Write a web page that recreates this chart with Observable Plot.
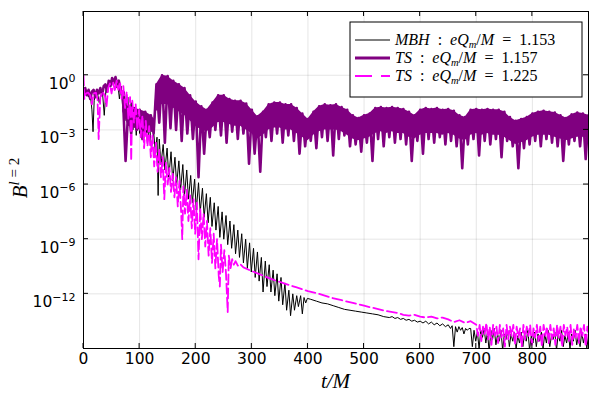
<!DOCTYPE html>
<html><head><meta charset="utf-8">
<script src="https://cdn.jsdelivr.net/npm/d3@7"></script>
<script src="https://cdn.jsdelivr.net/npm/@observablehq/plot@0.6"></script>
<style>body{margin:0;background:#fff} svg{display:block}</style>
</head><body><div id="chart"></div>
<script>
// ---- tick values ----
const xTicks = [0, 100, 200, 300, 400, 500, 600, 700, 800];
const yTicks = [0, -3, -6, -9, -12];   // log10 exponents

// ---- MBH : eQm/M = 1.153 (black), values are log10 B ----
const blackT = [0,3,6,9,12,15,17,19,22,25,28,31,34,37,40,43,46,49,52,55,58,61,64,67,70,73,76,79,82,85,88,91,94,97,100,104,107,111,114,118,121,125,128,131,133,135,
138,142,145,149,152,156,159,163,166,170,173,177,180,184,187,191,194,198,201,205,208,212,215,219,222,226,229,233,236,240,243,247,250,254,257,261,264,268,271,275,278,282,285,289,292,296,299,303,306,310,313,317,320,324,327,331,334,338,341,345,348,352,355,359,362,366,369,373,376,380,383,387,390,393,396,399,
405,415,425,435,445,455,465,475,485,495,505,515,525,535,545,550,555,560,565,570,575,580,585,590,595,600,605,610,615,620,625,630,635,640,645,650,654,657,660,663,666,669,672,675,678,681,684,687,
690,693,696,699,702,705,708,711,714,717,720,723,726,729,732,735,738,741,744,747,750,753,756,759,762,765,768,771,774,777,780,783,786,789,792,795,798,801,804,807,810,813,816,819,822,825,828,831,834,837,840,843,846,849,852,855,858,861,864,867,870,873,876,879,882,885,888,891,894,897,900];
const blackV = [-1.1,-0.9,-0.95,-1.2,-1.0,-1.9,-3.1,-1.4,-0.95,-1.0,-1.5,-1.1,-1.0,-2.2,-0.8,-0.5,-0.35,-0.3,-0.5,-0.3,-0.7,-0.4,-1.3,-0.6,-1.8,-0.9,-2.5,-1.2,-2.6,-1.5,-3.0,-1.8,-3.3,-2.0,-3.2,-2.3,-3.6,-2.6,-3.7,-2.8,-4.0,-3.1,-4.2,-3.4,-6.6,-3.5,
-4.9,-3.8,-5.2,-4.0,-5.6,-4.2,-5.8,-4.5,-6.0,-4.7,-6.3,-4.9,-6.6,-5.2,-6.8,-5.5,-7.0,-5.7,-7.4,-5.9,-7.5,-6.2,-7.8,-6.5,-8.1,-6.7,-8.3,-7.0,-8.5,-7.2,-8.9,-7.5,-9.0,-7.7,-9.3,-8.0,-9.5,-8.2,-9.8,-8.5,-10.0,-8.7,-10.3,-9.0,-10.6,-9.2,-10.8,-9.5,-11.1,-9.7,-11.3,-10.0,-11.9,-10.2,-11.6,-10.4,-11.9,-10.7,-12.1,-10.9,-12.4,-11.1,-12.6,-11.4,-12.9,-11.8,-13.2,-12.0,-12.9,-12.1,-12.7,-12.1,-13.1,-12.2,-12.5,-12.25,
-12.3,-12.4,-12.5,-12.55,-12.65,-12.75,-12.85,-12.9,-12.95,-13.0,-13.05,-13.1,-13.15,-13.25,-13.3,-13.25,-13.35,-13.3,-13.4,-13.35,-13.45,-13.4,-13.5,-13.45,-13.55,-13.5,-13.6,-13.5,-13.65,-13.55,-13.7,-13.6,-13.75,-13.65,-13.8,-13.7,-13.9,-13.75,-14.9,-13.8,-14.1,-13.8,-14.0,-13.85,-14.2,-13.9,-14.0,-13.9,
-13.9,-14.9,-14.0,-14.6,-14.1,-15.0,-14.0,-14.4,-13.9,-14.7,-14.1,-15.2,-14.0,-14.5,-13.9,-14.8,-14.2,-14.6,-14.0,-15.1,-14.2,-14.5,-14.0,-14.9,-14.2,-14.6,-14.1,-15.0,-14.3,-14.7,-14.1,-14.9,-14.2,-14.6,-14.0,-15.1,-14.3,-14.7,-14.1,-14.9,-14.2,-14.6,-14.1,-15.0,-14.2,-14.7,-14.0,-14.9,-14.3,-14.5,-14.1,-15.1,-14.2,-14.6,-14.0,-14.9,-14.3,-14.7,-14.1,-15.0,-14.2,-14.6,-14.0,-14.8,-14.3,-14.9,-14.1,-14.7,-14.2,-15.0,-14.3];

// ---- TS : eQm/M = 1.157 (purple): oscillating line ----
const purpleT = [0,3,6,9,12,15,18,21,24,27,30,33,36,39,42,45,48,51,54,57,60,63,66,
70,75,80,85,90,95,100,105,110,115,120,125,130,135,140,145,150,155,160,165,170,175,180,185,190,195,200,205,210,215,220,225,230,235,240,245,250,255,260,265,270,275,280,285,290,295,300,305,310,315,320,325,330,335,340,345,350,355,360,365,370,375,380,385,390,395,400,405,410,415,420,425,430,435,440,445,450,455,460,465,470,475,480,485,490,495,500,505,510,515,520,525,530,535,540,545,550,555,560,565,570,575,580,585,590,595,600,605,610,615,620,625,630,635,640,645,650,655,660,665,670,675,680,685,690,695,700,705,710,715,720,725,730,735,740,745,750,755,760,765,770,775,780,785,790,795,800,805,810,815,820,825,830,835,840,845,850,855,860,865,870,875,880,885,890,895,900];
const purpleV = [-0.9,-0.7,-1.1,-0.8,-1.3,-0.9,-0.8,-1.2,-0.8,-1.0,-0.7,-1.1,-0.6,-0.5,-0.9,-0.3,-0.6,-0.15,-0.4,-0.1,-0.5,-0.3,-0.9,
-1.0,-4.7,-1.7,-3.2,-1.8,-3.0,-1.9,-3.5,-2.0,-3.1,-2.2,-3.2,-0.5,-2.6,0.0,-3.7,-0.05,-2.9,-0.3,-3.0,
-0.5,-3.6,-0.7,-3.2,-1.1,-3.5,-1.45,-5.6,-1.7,-4.3,-1.9,-3.4,-1.5,-3.0,-1.1,-3.3,-1.1,-3.7,-1.3,-3.1,
-1.4,-3.5,-1.4,-3.2,-1.55,-4.85,-1.9,-4.3,-2.25,-5.3,-2.0,-3.4,-1.6,-3.6,-1.5,-3.2,-1.5,-3.7,-1.6,-3.3,
-1.6,-3.6,-1.8,-4.3,-2.1,-3.9,-2.4,-3.6,-2.0,-4.0,-1.7,-3.4,-1.6,-3.6,-1.65,-4.4,-1.6,-3.5,-1.75,-3.3,
-1.9,-3.9,-2.2,-3.8,-2.35,-4.2,-2.2,-3.7,-2.1,-4.7,-1.8,-3.5,-1.75,-3.9,-1.8,-3.4,-1.75,-3.7,-1.8,-3.5,
-1.85,-3.8,-2.0,-4.7,-2.2,-3.6,-1.9,-4.3,-1.8,-3.5,-1.85,-3.7,-1.8,-3.4,-1.9,-3.8,-1.85,-3.6,-1.95,-3.9,
-2.2,-5.1,-2.3,-3.8,-1.9,-3.5,-1.85,-4.4,-1.9,-3.6,-1.85,-3.8,-1.9,-3.5,-1.9,-4.5,-2.0,-3.6,-2.3,-3.9,
-2.5,-5.1,-2.4,-4.0,-2.3,-3.8,-2.1,-3.6,-2.0,-3.9,-1.95,-3.5,-2.0,-3.7,-2.05,-3.9,-2.2,-4.7,-2.35,-3.8,
-2.15,-3.6,-2.05,-3.9,-2.1,-4.6,-2.2];
// dense part of the purple signal: solid band between its upper envelope and its floor
const purpleBandT = [70,80,90,100,110,120,126,130,140,150,160,170,180,190,200,210,220,230,240,250,260,270,280,290,300,310,320,330,340,350,360,370,380,390,400,410,420,430,440,450,460,470,480,490,500,510,520,530,540,550,560,570,580,590,600,610,620,630,640,650,660,670,680,690,700,710,720,730,740,750,760,770,780,790,800,810,820,830,840,850,860,870,880,890,900];
const purpleBandTop = [-1.0,-1.7,-1.8,-1.9,-2.0,-2.2,-2.4,-0.5,0.0,-0.05,-0.3,-0.5,-0.7,-1.1,-1.45,-1.7,-1.9,-1.5,-1.1,-1.1,-1.3,-1.4,-1.4,-1.55,-1.9,-2.25,-2.0,-1.6,-1.5,-1.5,-1.6,-1.6,-1.8,-2.1,-2.4,-2.0,-1.7,-1.6,-1.65,-1.6,-1.75,-1.9,-2.2,-2.35,-2.2,-2.1,-1.8,-1.75,-1.8,-1.75,-1.8,-1.85,-2.0,-2.2,-1.9,-1.8,-1.85,-1.8,-1.9,-1.85,-1.95,-2.2,-2.3,-1.9,-1.85,-1.9,-1.85,-1.9,-1.9,-2.0,-2.3,-2.5,-2.4,-2.3,-2.1,-2.0,-1.95,-2.0,-2.05,-2.2,-2.35,-2.15,-2.05,-2.1,-2.2];
const purpleBandFloor = [-2.0,-2.8,-2.9,-3.0,-3.0,-3.1,-3.2,-2.0,-1.6,-1.6,-1.8,-2.0,-2.2,-2.5,-2.8,-3.0,-3.1,-2.9,-2.6,-2.6,-2.7,-2.8,-2.8,-3.0,-3.2,-3.5,-3.3,-3.0,-2.9,-2.9,-3.0,-3.0,-3.2,-3.4,-3.6,-3.3,-3.1,-3.0,-3.0,-3.0,-3.1,-3.3,-3.5,-3.6,-3.5,-3.4,-3.2,-3.1,-3.2,-3.1,-3.2,-3.2,-3.4,-3.5,-3.3,-3.2,-3.2,-3.2,-3.3,-3.2,-3.3,-3.5,-3.6,-3.3,-3.2,-3.3,-3.2,-3.3,-3.3,-3.4,-3.6,-3.8,-3.7,-3.6,-3.4,-3.3,-3.3,-3.3,-3.4,-3.5,-3.6,-3.5,-3.4,-3.4,-3.5];

// ---- TS : eQm/M = 1.225 (magenta, dashed) ----
const magentaT = [0,1.5,4,8,12,15,18,22,25,27,30,34,38,41,44,47,50,53,56,59,62,65,68,71,74,77,80,83,85,87,90,93,96,99,102,105,108,111,114,117,120,123,126,129,132,135,138,141,144,147,150,153,156,159,162,165,168,171,174,176,178,181,184,187,190,193,196,199,202,205,208,211,214,217,220,223,226,229,232,235,238,241,243,245,248,251,254,257,259,262,265,268,271,275,279,285,
300,320,340,360,380,400,420,440,460,480,500,520,540,560,570,580,590,600,610,620,630,640,650,660,670,680,690,700,
703,706,709,712,715,718,721,724,727,730,733,736,739,742,745,748,751,754,757,760,763,766,769,772,775,778,781,784,787,790,793,796,799,802,805,808,811,814,817,820,823,826,829,832,835,838,841,844,847,850,853,856,859,862,865,868,871,874,877,880,883,886,889,892,895,898,900];
const magentaV = [0.0,-1.3,-1.0,-0.95,-1.1,-1.6,-1.0,-0.95,-1.3,-3.5,-1.2,-0.9,-1.1,-1.7,-0.7,-0.45,-1.0,-0.4,-0.9,-0.3,-0.8,-0.35,-1.3,-0.6,-1.8,-0.9,-2.4,-1.2,-4.7,-1.4,-2.6,-1.6,-3.0,-1.9,-3.4,-2.2,-4.0,-2.5,-3.9,-2.8,-4.5,-3.3,-5.0,-3.7,-5.3,-4.1,-5.6,-4.5,-6.8,-4.8,-6.0,-5.1,-6.4,-5.4,-6.7,-5.6,-7.2,-5.8,-7.5,-9.0,-6.1,-7.6,-6.3,-8.0,-6.6,-8.4,-6.8,-8.7,-7.0,-10.1,-7.3,-9.0,-7.6,-9.4,-8.0,-9.9,-8.4,-10.3,-8.7,-10.6,-9.0,-11.0,-11.6,-9.3,-10.8,-9.6,-10.9,-13.0,-9.9,-10.6,-10.1,-10.4,-10.2,-10.45,-10.35,-10.55,
-10.75,-11.0,-11.25,-11.45,-11.65,-11.85,-12.0,-12.2,-12.35,-12.5,-12.65,-12.8,-12.95,-13.05,-13.15,-13.2,-13.15,-13.25,-13.3,-13.25,-13.35,-13.3,-13.4,-13.55,-13.45,-13.6,-13.5,-13.7,
-14.3,-13.7,-14.6,-13.8,-14.2,-13.6,-14.5,-13.8,-14.8,-13.7,-14.3,-13.8,-14.7,-13.7,-14.4,-13.9,-14.9,-13.7,-14.5,-13.8,-14.3,-13.7,-14.8,-13.8,-14.4,-13.9,-14.9,-13.7,-14.5,-13.8,-14.3,-13.7,-14.8,-13.9,-14.4,-13.7,-14.6,-13.8,-14.9,-13.7,-14.3,-13.8,-14.7,-13.7,-14.5,-13.9,-14.8,-13.7,-14.4,-13.8,-14.9,-13.7,-14.3,-13.8,-14.6,-13.7,-14.8,-13.9,-14.4,-13.7,-14.7,-13.8,-14.3,-13.7,-14.9,-13.8,-14.2];

const legendLabels = ["MBH", "TS", "TS"];
const legendValues = ["1.153", "1.157", "1.225"];

const rows = (T, V) => T.map((t, i) => ({t, v: V[i]}));
const black = rows(blackT, blackV);
const purple = rows(purpleT, purpleV);
const magenta = rows(magentaT, magentaV);
const purpleBand = purpleBandT.map((t, i) => ({t, top: purpleBandTop[i], floor: purpleBandFloor[i]}));

const svg = Plot.plot({
  width: 600, height: 400,
  marginLeft: 83, marginRight: 12, marginTop: 11, marginBottom: 52,
  x: {domain: [0, 900]},
  y: {domain: [-15, 3.5]},
  style: {fontFamily: "DejaVu Sans", fontSize: "15.5px", background: "white", color: "black"},
  marks: [
    Plot.gridX(xTicks, {stroke: "#000", strokeOpacity: 0.1}),
    Plot.gridY(yTicks, {stroke: "#000", strokeOpacity: 0.1}),
    Plot.line(black, {x: "t", y: "v", stroke: "black", strokeWidth: 1, clip: true}),
    Plot.areaY(purpleBand, {x: "t", y1: "floor", y2: "top", fill: "#800080", clip: true}),
    Plot.line(purple, {x: "t", y: "v", stroke: "#800080", strokeWidth: 2.6, clip: true}),
    Plot.line(magenta, {x: "t", y: "v", stroke: "#ff00ff", strokeWidth: 1.8, strokeDasharray: "10,4", clip: true}),
    Plot.axisX(xTicks, {tickSize: 0, tickPadding: 4, label: null, tickFormat: d => String(d)}),
    Plot.axisY(yTicks, {tickSize: 0, tickPadding: 8, label: null, tickFormat: d => "10^" + d}),
    Plot.frame({stroke: "black", strokeWidth: 1})
  ]
});
document.getElementById("chart").append(svg);

const root = d3.select(svg);
// superscript exponents on y tick labels
root.selectAll('g[aria-label="y-axis tick label"] text').each(function() {
  const s = this.textContent;
  const k = s.split("^")[1];
  const t = d3.select(this);
  t.text("10").attr("dy", "0.55em");
  t.append("tspan").attr("dy", "-0.6em").attr("font-size", "11px").text(k.replace("-", "\u2212"));
});

// inward tick marks on all four sides, positioned via Plot's scales
const xs = svg.scale("x"), ys = svg.scale("y");
const sx = d3.scaleLinear(xs.domain, xs.range), sy = d3.scaleLinear(ys.domain, ys.range);
const [x0, x1] = xs.range, [yb, yt] = ys.range;
const tk = root.append("g").attr("stroke", "black").attr("stroke-width", 1);
for (const v of xTicks) {
  const x = sx(v);
  tk.append("line").attr("x1", x).attr("x2", x).attr("y1", yb).attr("y2", yb - 5);
  tk.append("line").attr("x1", x).attr("x2", x).attr("y1", yt).attr("y2", yt + 5);
}
for (const v of yTicks) {
  const y = sy(v);
  tk.append("line").attr("y1", y).attr("y2", y).attr("x1", x0).attr("x2", x0 + 5);
  tk.append("line").attr("y1", y).attr("y2", y).attr("x1", x1).attr("x2", x1 - 5);
}

// axis titles
const serif = "'Liberation Serif', 'DejaVu Serif', serif";
root.append("text").attr("x", (x0 + x1) / 2).attr("y", 388).attr("text-anchor", "middle")
  .attr("font-family", serif).attr("font-size", 21).attr("font-style", "italic").text("t/M");
const yl = root.append("text").attr("transform", "translate(27,178) rotate(-90)").attr("text-anchor", "middle")
  .attr("font-family", serif).attr("font-size", 21);
yl.append("tspan").attr("font-style", "italic").text("B");
yl.append("tspan").attr("font-style", "italic").attr("font-size", 15).attr("dy", -8).text("l");
yl.append("tspan").attr("font-size", 15).text(" = 2");

// legend
const lg = root.append("g").attr("text-anchor", "start");
lg.append("rect").attr("x", 350).attr("y", 22).attr("width", 232).attr("height", 75)
  .attr("fill", "white").attr("stroke", "black").attr("stroke-width", 1);
const styles = [
  {stroke: "black", w: 1, dash: null},
  {stroke: "#800080", w: 2.8, dash: null},
  {stroke: "#ff00ff", w: 1.8, dash: "17,9"}
];
const rowY = [40, 58, 76];
legendLabels.forEach((lab, i) => {
  const y = rowY[i];
  lg.append("line").attr("x1", 355).attr("x2", 390).attr("y1", y).attr("y2", y)
    .attr("stroke", styles[i].stroke).attr("stroke-width", styles[i].w)
    .attr("stroke-dasharray", styles[i].dash);
  const tx = lg.append("text").attr("x", 395).attr("y", y + 4.5).attr("text-anchor", "start")
    .attr("font-family", serif).attr("font-size", 16);
  tx.append("tspan").attr("font-style", "italic").text(lab);
  tx.append("tspan").text("\u2002:\u2002");
  tx.append("tspan").attr("font-style", "italic").text("eQ");
  tx.append("tspan").attr("font-style", "italic").attr("font-size", 10.5).attr("dy", 3).text("m");
  tx.append("tspan").attr("dy", -3).text("/");
  tx.append("tspan").attr("font-style", "italic").text("M");
  tx.append("tspan").text("\u2002=\u2002" + legendValues[i]);
});
</script>
</body></html>
